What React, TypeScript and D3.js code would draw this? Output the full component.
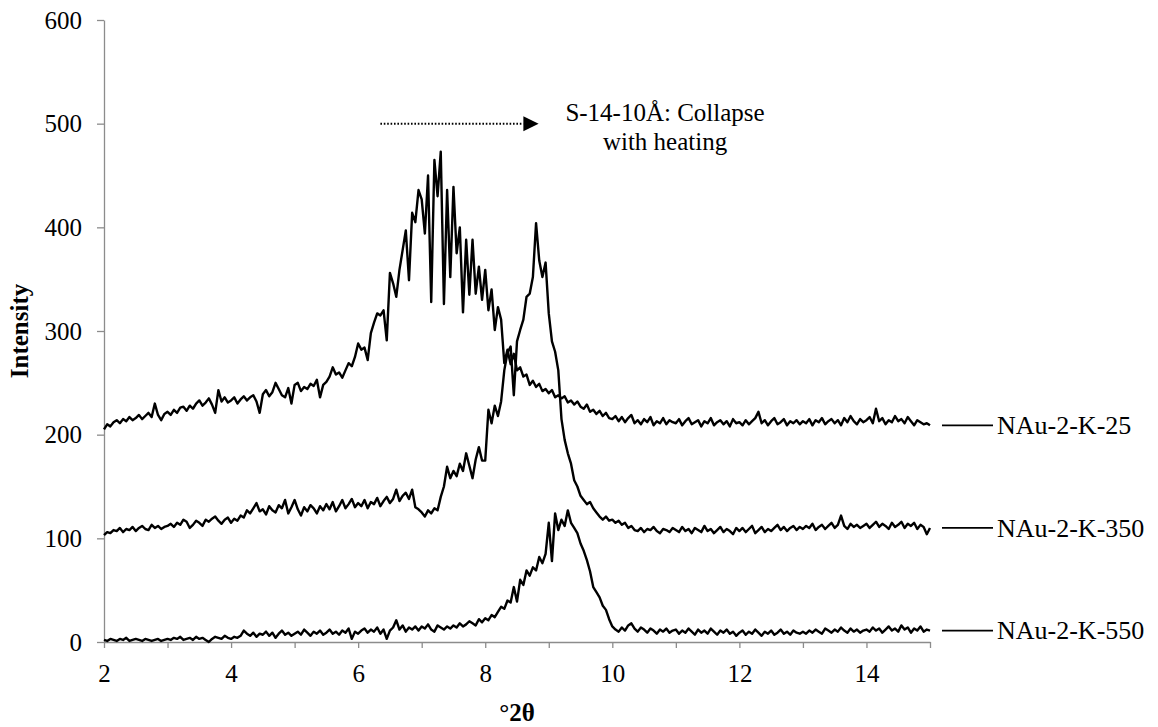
import React, { useEffect, useRef } from 'react';
import * as d3 from 'd3';

// XRD scans, read every 0.05 °2θ from 2 to 15
const scanStart = 2;
const scanStep = 0.05;

const seriesNames = ['NAu-2-K-25', 'NAu-2-K-350', 'NAu-2-K-550'];

const k25 = [
  205, 210, 208, 212, 214, 211, 215, 213, 217, 214, 216, 219, 215, 218, 221, 217, 230, 219, 214, 220,
  222, 219, 224, 221, 226, 227, 223, 228, 225, 230, 233, 228, 231, 235, 229, 221, 243, 232, 236, 231,
  233, 236, 230, 234, 237, 233, 236, 238, 232, 221, 239, 243, 237, 241, 250, 244, 238, 236, 245, 230,
  248, 250, 242, 246, 244, 249, 247, 253, 236, 248, 251, 256, 265, 258, 260, 255, 262, 269, 266, 275,
  288, 282, 284, 272, 298, 308, 317, 315, 320, 291, 356, 346, 333, 359, 378, 397, 349, 414, 405, 436,
  427, 394, 450, 328, 465, 430, 473, 326, 436, 352, 439, 375, 400, 318, 388, 335, 388, 336, 362, 330,
  359, 320, 340, 301, 323, 311, 269, 282, 268, 278, 262, 265, 256, 258, 248, 252, 246, 249, 242, 244,
  240, 243, 236, 238, 235, 237, 231, 233, 229, 232, 227, 225, 229, 222, 224, 220, 223, 218, 221, 216,
  215, 218, 213, 217, 212, 216, 219, 211, 214, 210, 215, 212, 217, 209, 213, 211, 216, 210, 214, 212,
  211, 215, 209, 213, 216, 210, 212, 214, 208, 213, 211, 216, 209, 212, 214, 210, 213, 208, 215, 211,
  212, 209, 214, 210, 213, 216, 222, 211, 214, 209, 213, 216, 210, 212, 215, 209, 213, 211, 214, 210,
  213, 211, 215, 209, 214, 212, 216, 210, 213, 215, 211, 214, 209, 216, 212, 218, 213, 210, 215, 212,
  214, 217, 211, 225, 213, 216, 210, 214, 212, 218, 213, 215, 211, 217, 213, 209, 214, 212, 210, 211,
  209
];

const k350 = [
  103, 106, 105, 108, 107, 110, 106, 109, 108, 111, 107, 110, 112, 109, 108, 113, 110, 112, 109, 111,
  112, 114, 111, 115, 113, 118, 116, 110, 113, 117, 115, 112, 118, 116, 119, 121, 117, 114, 118, 120,
  115, 119, 117, 122, 120, 127, 124, 129, 134, 126, 128, 123, 131, 127, 125, 132, 129, 137, 124, 130,
  137, 128, 122, 130, 126, 132, 129, 124, 131, 127, 133, 128, 135, 126, 131, 137, 129, 133, 138, 130,
  134, 131, 137, 129, 135, 133, 139, 131, 136, 140, 134, 138, 147, 136, 141, 144, 138, 147, 130, 128,
  125, 121, 127, 124, 129, 127, 140, 150, 169, 158, 165, 160, 172, 165, 182, 170, 158, 176, 188, 175,
  175, 224, 211, 228, 218, 232, 262, 279, 285, 238, 290, 301, 311, 333, 336, 352, 404, 368, 352, 366,
  317, 290, 280, 262, 215, 195, 182, 172, 156, 150, 141, 137, 133, 135, 129, 125, 121, 118, 121, 117,
  118, 115, 117, 113, 115, 110, 112, 108, 107, 110, 106, 109, 108, 111, 107, 105, 109, 108, 106, 110,
  108, 106, 111, 107, 109, 105, 110, 108, 106, 112, 107, 109, 105, 108, 111, 106, 109, 107, 104, 110,
  107, 110, 106, 109, 112, 105, 108, 111, 106, 109, 107, 110, 113, 108, 111, 107, 110, 112, 108, 111,
  109, 112, 110, 114, 108, 111, 113, 109, 112, 115, 110, 113, 122, 112, 109, 114, 111, 113, 110, 112,
  114, 110, 113, 116, 111, 114, 112, 109, 115, 111, 113, 116, 110, 114, 112, 115, 109, 113, 111, 104,
  110
];

const k550 = [
  2, 1, 3, 2, 1, 3, 2, 4, 1, 2, 3, 2, 1, 3, 2, 1, 2, 3, 1, 2,
  3, 2, 4, 3, 5, 2, 3, 4, 2, 5, 3, 4, 2, 0, 3, 5, 4, 3, 6, 4,
  3, 5, 4, 6, 11, 8, 6, 9, 5, 8, 7, 10, 6, 9, 4, 8, 11, 7, 9, 6,
  8, 10, 7, 12, 9, 6, 10, 8, 11, 7, 9, 12, 8, 10, 7, 11, 9, 13, 3, 10,
  8, 11, 13, 9, 12, 10, 14, 8, 12, 3, 11, 14, 21, 12, 16, 10, 14, 12, 15, 11,
  15, 13, 17, 12, 10, 16, 14, 12, 15, 13, 16, 14, 18, 15, 17, 20, 18, 16, 22, 19,
  23, 21, 26, 24, 29, 34, 32, 40, 38, 53, 39, 60, 55, 69, 64, 72, 69, 82, 76, 85,
  115, 78, 124, 108, 118, 112, 127, 115, 110, 105, 95, 88, 79, 68, 53, 48, 43, 35, 31, 22,
  15, 12, 10, 14, 11, 16, 18, 13, 10, 14, 12, 9, 13, 11, 8, 12, 10, 13, 9, 11,
  12, 8, 11, 9, 13, 10, 7, 12, 9, 11, 8, 13, 10, 7, 11, 9, 12, 8, 10, 6,
  9, 11, 7, 10, 8, 12, 9, 6, 10, 8, 11, 7, 9, 12, 8, 10, 7, 11, 9, 8,
  10, 8, 11, 9, 12, 10, 8, 13, 11, 9, 12, 10, 14, 11, 9, 13, 10, 12, 9, 11,
  12, 10, 14, 11, 13, 9, 12, 15, 11, 13, 10, 16, 12, 14, 9, 13, 11, 15, 10, 12,
  11
];

const xTicks = [2, 3, 4, 5, 6, 7, 8, 9, 10, 11, 12, 13, 14, 15];
const yTicks = [0, 100, 200, 300, 400, 500, 600];

const dims = {
  width: 1158,
  height: 727,
  left: 104,
  right: 930,
  top: 20,
  bottom: 642
};

const font = '"Liberation Serif", "Times New Roman", serif';
const axisGrey = '#8c8c8c';

export default function App() {
  const svgRef = useRef<SVGSVGElement>(null);

  useEffect(() => {
    const svg = d3.select(svgRef.current);
    svg.selectAll('*').remove();

    const x = d3.scaleLinear().domain([2, 15]).range([dims.left, dims.right]);
    const y = d3.scaleLinear().domain([0, 600]).range([dims.bottom, dims.top]);

    // axes
    const xAxis = d3.axisBottom(x)
      .tickValues(xTicks)
      .tickSize(6)
      .tickSizeOuter(0)
      .tickPadding(16)
      .tickFormat(d => (+d % 2 === 0 ? String(d) : ''));
    const gx = svg.append('g')
      .attr('transform', `translate(0,${dims.bottom})`)
      .call(xAxis);

    const yAxis = d3.axisLeft(y)
      .tickValues(yTicks)
      .tickSize(7)
      .tickSizeOuter(0)
      .tickPadding(15);
    const gy = svg.append('g')
      .attr('transform', `translate(${dims.left},0)`)
      .call(yAxis);

    [gx, gy].forEach(g => {
      g.attr('font-family', font).attr('font-size', 25);
      g.select('.domain').attr('stroke', axisGrey).attr('stroke-width', 1.3);
      g.selectAll('.tick line').attr('stroke', axisGrey).attr('stroke-width', 1.3);
      g.selectAll('.tick text').attr('fill', '#000');
    });

    // scans
    const line = d3.line<number>()
      .x((_, i) => x(scanStart + i * scanStep))
      .y(d => y(d));

    const allSeries = [k25, k350, k550];
    allSeries.forEach(values => {
      svg.append('path')
        .datum(values)
        .attr('fill', 'none')
        .attr('stroke', '#000')
        .attr('stroke-width', 2.4)
        .attr('stroke-linejoin', 'round')
        .attr('d', line);
    });

    // series labels with leader lines
    allSeries.forEach((values, i) => {
      const ly = y(values[values.length - 1]);
      svg.append('line')
        .attr('x1', x(15) + 12)
        .attr('x2', x(15) + 63)
        .attr('y1', ly)
        .attr('y2', ly)
        .attr('stroke', '#000')
        .attr('stroke-width', 1.8);
      svg.append('text')
        .attr('x', x(15) + 67)
        .attr('y', ly)
        .attr('dy', '0.33em')
        .attr('font-family', font)
        .attr('font-size', 26)
        .text(seriesNames[i]);
    });

    // annotation arrow
    svg.append('line')
      .attr('x1', x(6.35))
      .attr('x2', x(8.6))
      .attr('y1', y(500))
      .attr('y2', y(500))
      .attr('stroke', '#000')
      .attr('stroke-width', 2)
      .attr('stroke-dasharray', '1.6,1.8');
    svg.append('path')
      .attr('d', `M${x(8.6)},${y(500) - 7.5}L${x(8.84)},${y(500)}L${x(8.6)},${y(500) + 7.5}Z`)
      .attr('fill', '#000');

    const note = svg.append('text')
      .attr('font-family', font)
      .attr('font-size', 25)
      .attr('text-anchor', 'middle');
    note.append('tspan')
      .attr('x', x(10.83))
      .attr('y', y(500) - 3)
      .text('S-14-10Å: Collapse');
    note.append('tspan')
      .attr('x', x(10.83))
      .attr('y', y(500) + 26)
      .text('with heating');

    // axis titles
    svg.append('text')
      .attr('transform', `translate(28,${(dims.top + dims.bottom) / 2}) rotate(-90)`)
      .attr('text-anchor', 'middle')
      .attr('font-family', font)
      .attr('font-size', 25)
      .attr('font-weight', 'bold')
      .text('Intensity');
    svg.append('text')
      .attr('x', (dims.left + dims.right) / 2)
      .attr('y', 721)
      .attr('text-anchor', 'middle')
      .attr('font-family', font)
      .attr('font-size', 25)
      .attr('font-weight', 'bold')
      .text('°2θ');
  }, []);

  return (
    <svg
      ref={svgRef}
      width={dims.width}
      height={dims.height}
      style={{ position: 'absolute', left: 0, top: 0, background: '#fff' }}
    />
  );
}
